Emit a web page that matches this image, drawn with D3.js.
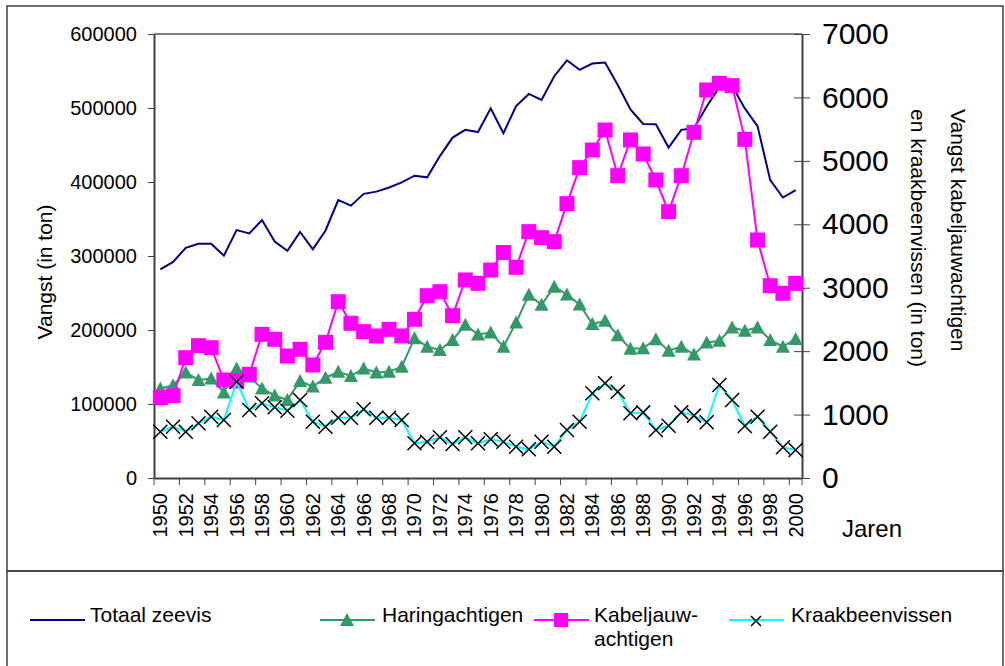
<!DOCTYPE html>
<html>
<head>
<meta charset="utf-8">
<script src="https://cdn.jsdelivr.net/npm/d3@7"></script>
<style>
  body { margin: 0; background: #fff; }
  svg text { font-family: "Liberation Sans", Arial, sans-serif; fill: #000; }
</style>
</head>
<body>
<svg id="chart" width="1005" height="666"></svg>
<script>
// years 1950..2000
var years = d3.range(1950, 2001);

// total catch (left axis, ton)
var totaal = [282000, 292000, 311000, 316500, 316500, 300500, 335000, 330500, 348500, 319500,
  307000, 332500, 309000, 334500, 375500, 368000, 384000, 387000, 392500, 399500,
  408500, 406300, 435000, 460000, 470500, 467500, 499500, 466000, 502500, 519000,
  511000, 543000, 564500, 551500, 560000, 561500, 531000, 498000, 478500, 478000,
  446500, 470500, 472500, 502000, 528500, 530000, 499500, 475500, 402500, 379000, 389000];

// herring-like (left axis, ton)
var haring = [121000, 125500, 142500, 132500, 134500, 115500, 148000, 137000, 121000, 111500,
  105500, 131000, 123500, 135500, 143500, 138000, 148000, 142500, 143500, 150500,
  189000, 177500, 173000, 186500, 207000, 194000, 196500, 177500, 210000, 247500,
  234000, 258500, 248000, 234500, 208000, 212500, 193000, 174500, 175500, 187500,
  172000, 177500, 167000, 183000, 185500, 203500, 199000, 203500, 186500, 177500, 188000];

// cod-like (right axis, ton)
var kabeljauw = [1266, 1298, 1897, 2086, 2054, 1545, 1529, 1635, 2265, 2187,
  1923, 2029, 1782, 2139, 2780, 2439, 2307, 2239, 2344, 2239,
  2502, 2874, 2937, 2559, 3122, 3069, 3279, 3555, 3322, 3884,
  3789, 3726, 4325, 4893, 5171, 5486, 4766, 5329, 5108, 4698,
  4199, 4766, 5450, 6117, 6222, 6185, 5339, 3752, 3032, 2912, 3069];

// cartilaginous fish (right axis, ton)
var kraakbeen = [730, 809, 730, 862, 967, 914, 1518, 1072, 1177, 1114,
  1061, 1230, 888, 809, 951, 951, 1083, 951, 951, 914,
  547, 572, 641, 536, 641, 547, 610, 572, 494, 452,
  572, 494, 757, 888, 1335, 1493, 1361, 1020, 1035, 757,
  825, 1035, 983, 878, 1466, 1230, 820, 967, 730, 484, 441];

var leftTicks = d3.range(0, 600001, 100000);
var rightTicks = d3.range(0, 7001, 1000);
var yearLabels = years.filter(function(d){ return d % 2 === 0; });

var svg = d3.select("#chart");

var plotL = 154, plotR = 802, plotT = 34, plotB = 478;

var x = d3.scaleBand().domain(years).range([plotL, plotR]).padding(0);
var yL = d3.scaleLinear().domain([0, 600000]).range([plotB, plotT]);
var yR = d3.scaleLinear().domain([0, 7000]).range([plotB, plotT]);
function cx(d){ return x(d) + x.bandwidth() / 2; }

// outer boxes
svg.append("rect").attr("x", 7).attr("y", 6).attr("width", 996).attr("height", 565)
  .attr("fill", "none").attr("stroke", "#404040").attr("stroke-width", 1.5);
svg.append("rect").attr("x", 7).attr("y", 571).attr("width", 996).attr("height", 110)
  .attr("fill", "none").attr("stroke", "#404040").attr("stroke-width", 1.5);

// top border of plot area
svg.append("line").attr("x1", plotL).attr("x2", plotR).attr("y1", plotT).attr("y2", plotT)
  .attr("stroke", "#808080").attr("stroke-width", 2);

// left axis
var gL = svg.append("g").attr("transform", "translate(" + plotL + ",0)")
  .call(d3.axisLeft(yL).tickValues(leftTicks).tickSize(6).tickSizeOuter(0).tickPadding(11)
    .tickFormat(d3.format("d")));
gL.selectAll("text").style("font-size", "20px");

// right axis
var gR = svg.append("g").attr("transform", "translate(" + plotR + ",0)")
  .call(d3.axisRight(yR).tickValues(rightTicks).tickSize(8).tickSizeOuter(0).tickPadding(12)
    .tickFormat(d3.format("d")));
gR.selectAll(".tick line").attr("x1", -8);
gR.selectAll("text").style("font-size", "30px");

// bottom axis
var gB = svg.append("g").attr("transform", "translate(0," + plotB + ")")
  .call(d3.axisBottom(x).tickValues(yearLabels).tickSize(0).tickSizeOuter(0));
gB.selectAll("text")
  .style("font-size", "20px")
  .attr("transform", "rotate(-90)")
  .attr("text-anchor", "end")
  .attr("x", -15).attr("y", 0).attr("dy", "0.35em");
gB.selectAll(".tick line").remove();
gB.selectAll(".tickmark").data(yearLabels.concat([2001])).enter().append("line")
  .attr("x1", function(d){ return d > 2000 ? plotR : x(d); })
  .attr("x2", function(d){ return d > 2000 ? plotR : x(d); })
  .attr("y1", 0).attr("y2", 7).attr("stroke", "#404040");

[gL, gR, gB].forEach(function(g){
  g.select(".domain").attr("stroke", "#404040").attr("stroke-width", 2);
  g.selectAll(".tick line").attr("stroke", "#404040");
});

// axis titles
svg.append("text").attr("transform", "translate(52,272) rotate(-90)")
  .attr("text-anchor", "middle").style("font-size", "21px").text("Vangst (in ton)");
svg.append("text").attr("transform", "translate(951,109) rotate(90)")
  .attr("text-anchor", "start").style("font-size", "21px").text("Vangst kabeljauwachtigen");
svg.append("text").attr("transform", "translate(911,109) rotate(90)")
  .attr("text-anchor", "start").style("font-size", "21px").text("en kraakbeenvissen (in ton)");
svg.append("text").attr("x", 842).attr("y", 537).style("font-size", "24px").text("Jaren");

// series
var triPath = "M0,-7L7,6L-7,6Z";
var xPath = "M-7,-7L7,7M-7,7L7,-7";

svg.append("path").datum(totaal)
  .attr("fill", "none").attr("stroke", "#000080").attr("stroke-width", 2)
  .attr("d", d3.line().x(function(d, i){ return cx(years[i]); }).y(function(d){ return yL(d); }));

svg.append("path").datum(haring)
  .attr("fill", "none").attr("stroke", "#339966").attr("stroke-width", 2)
  .attr("d", d3.line().x(function(d, i){ return cx(years[i]); }).y(function(d){ return yL(d); }));
svg.selectAll(".tri").data(haring).enter().append("path")
  .attr("transform", function(d, i){ return "translate(" + cx(years[i]) + "," + yL(d) + ")"; })
  .attr("d", triPath).attr("fill", "#339966");

svg.append("path").datum(kabeljauw)
  .attr("fill", "none").attr("stroke", "#ff00ff").attr("stroke-width", 2)
  .attr("d", d3.line().x(function(d, i){ return cx(years[i]); }).y(function(d){ return yR(d); }));
svg.selectAll(".sq").data(kabeljauw).enter().append("rect")
  .attr("x", function(d, i){ return cx(years[i]) - 7.5; })
  .attr("y", function(d){ return yR(d) - 7.5; })
  .attr("width", 15).attr("height", 15).attr("fill", "#ff00ff");

svg.append("path").datum(kraakbeen)
  .attr("fill", "none").attr("stroke", "#00ffff").attr("stroke-width", 2)
  .attr("d", d3.line().x(function(d, i){ return cx(years[i]); }).y(function(d){ return yR(d); }));
svg.selectAll(".xm").data(kraakbeen).enter().append("path")
  .attr("transform", function(d, i){ return "translate(" + cx(years[i]) + "," + yR(d) + ")"; })
  .attr("d", xPath).attr("stroke", "#000").attr("stroke-width", 1.5).attr("fill", "none");

// legend
var ly = 620;
var lg = svg.append("g");
function legLine(x1, color){
  lg.append("line").attr("x1", x1).attr("x2", x1 + 55).attr("y1", ly).attr("y2", ly)
    .attr("stroke", color).attr("stroke-width", 2);
}
legLine(30, "#000080");
lg.append("text").attr("x", 90).attr("y", 622).style("font-size", "21px").text("Totaal zeevis");

legLine(320, "#339966");
lg.append("path").attr("transform", "translate(347," + ly + ")").attr("d", triPath).attr("fill", "#339966");
lg.append("text").attr("x", 382).attr("y", 622).style("font-size", "21px").text("Haringachtigen");

legLine(534, "#ff00ff");
lg.append("rect").attr("x", 554).attr("y", ly - 7).attr("width", 14).attr("height", 14).attr("fill", "#ff00ff");
lg.append("text").attr("x", 594).attr("y", 622).style("font-size", "21px").text("Kabeljauw-");
lg.append("text").attr("x", 594).attr("y", 646).style("font-size", "21px").text("achtigen");

legLine(729, "#00ffff");
lg.append("path").attr("transform", "translate(756," + (ly + 1) + ")").attr("d", "M-5,-5L5,5M-5,5L5,-5")
  .attr("stroke", "#000").attr("stroke-width", 1.5);
lg.append("text").attr("x", 791).attr("y", 622).style("font-size", "21px").text("Kraakbeenvissen");
</script>
</body>
</html>
